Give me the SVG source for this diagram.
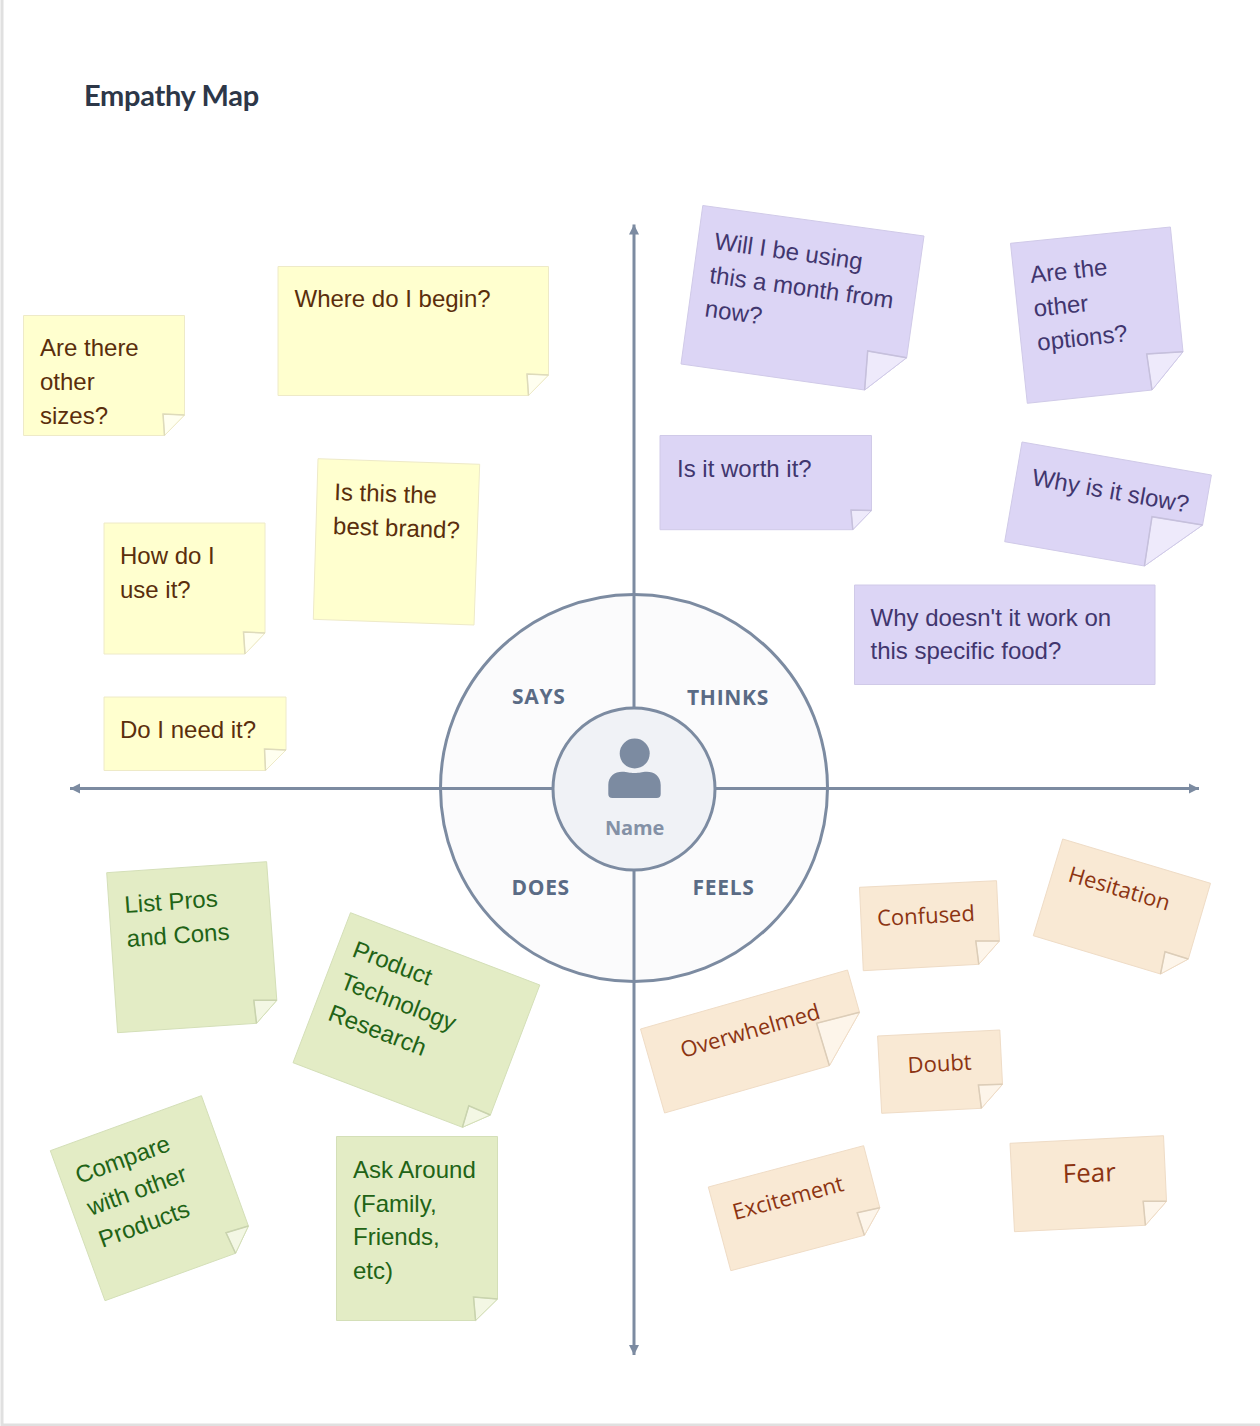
<svg xmlns="http://www.w3.org/2000/svg" width="1260" height="1426" viewBox="0 0 1260 1426">
<defs>
<marker id="arrow" markerUnits="userSpaceOnUse" markerWidth="11" markerHeight="12" refX="10" refY="6" orient="auto"><path d="M0 1 L10 6 L0 11 Z" fill="#7c8ba1"/></marker>
</defs>
<style>
.note{stroke-width:1}
.fold{stroke-width:1}
.crease{fill:none;stroke-width:1.5}
.t{font-family:"Liberation Sans",Arial,sans-serif;font-size:24px}
.p{font-family:"Open Sans","Noto Sans",sans-serif;font-size:22px}
.y .note{fill:#ffffcf;stroke:#eeeac8}.y .fold{fill:#fffff0;stroke:#eeeac8}.y .crease{stroke:#dedbbb}.y text{fill:#5a2e0c}
.v .note{fill:#dcd5f5;stroke:#d0cae8}.v .fold{fill:#eeeafb;stroke:#d0cae8}.v .crease{stroke:#c6c0dc}.v text{fill:#41366e}
.g .note{fill:#e3ecc5;stroke:#d4dfb8}.g .fold{fill:#f3f7e4;stroke:#d4dfb8}.g .crease{stroke:#c9d3ae}.g text{fill:#216316}
.o .note{fill:#f9e9d4;stroke:#efdcc6}.o .fold{fill:#fdf5ea;stroke:#efdcc6}.o .crease{stroke:#dccdb8}.o text{fill:#8c3412}
.lab{font-family:"Open Sans","Noto Sans",sans-serif;font-weight:700;font-size:21px;letter-spacing:0.7px;fill:#5a6b85}
.axis{stroke:#7c8ba1;stroke-width:3;fill:none}
</style>
<rect x="0" y="0" width="1260" height="1426" fill="#fff"/>
<path d="M2 0V1425H1260" fill="none" stroke="#e0e0e0" stroke-width="3"/>
<text x="84" y="105.500" style="font-family:Lato,'Open Sans',sans-serif;font-weight:700;font-size:29px;letter-spacing:-0.3px;fill:#2d3748">Empathy Map</text>

<g id="center-outer"><circle cx="634" cy="788" r="193.5" fill="#fbfbfc" stroke="#7c8ba1" stroke-width="3"/></g>
<g id="connectors">
<path class="axis" d="M634 708V224.500" marker-end="url(#arrow)"/>
<path class="axis" d="M634 870V1355" marker-end="url(#arrow)"/>
<path class="axis" d="M553 788.500H70" marker-end="url(#arrow)"/>
<path class="axis" d="M715 788.500H1199" marker-end="url(#arrow)"/>
</g>
<g id="center-inner"><circle cx="634" cy="789" r="81" fill="#f0f2f6" stroke="#7c8ba1" stroke-width="3"/>
<circle cx="634.700" cy="753.500" r="15" fill="#7c8ba1"/>
<path d="M608.300 794V785C608.300 776 615 771.700 622 771.700C628 771.700 629 773 634.500 773C640 773 641 771.700 647 771.700C654 771.700 660.700 776 660.700 785V794Q660.700 798 656.700 798H612.300Q608.300 798 608.300 794Z" fill="#7c8ba1"/>
<text x="634.500" y="835" text-anchor="middle" style="font-family:'Open Sans','Noto Sans',sans-serif;font-weight:700;font-size:20px;letter-spacing:-0.2px;fill:#8491a6">Name</text></g>
<g id="label-says"><text class="lab" x="512" y="704">SAYS</text></g>
<g id="label-thinks"><text class="lab" x="687" y="705">THINKS</text></g>
<g id="label-does"><text class="lab" x="511.500" y="895">DOES</text></g>
<g id="label-feels"><text class="lab" x="692.500" y="895">FEELS</text></g>

<g id="y1" class="y"><path class="note" d="M23.500 315.500H184.500V415L164.500 435.500H23.500Z"/><path class="fold" d="M184.500 415L163 414L164.500 435.500Z"/><path class="crease" d="M184.500 415L163 414L164.500 435.500"/><text class="t" x="40" y="356">Are there<tspan x="40" dy="34">other</tspan><tspan x="40" dy="34">sizes?</tspan></text></g>
<g id="y2" class="y"><path class="note" d="M278 266.500H548.500V375L528.500 395.500H278Z"/><path class="fold" d="M548.500 375L527 374L528.500 395.500Z"/><path class="crease" d="M548.500 375L527 374L528.500 395.500"/><text class="t" x="294.500" y="307">Where do I begin?</text></g>
<g id="y3" class="y"><path class="note" d="M318 458.700L479.700 464.300L474 625L313.300 619.300Z"/><text class="t" transform="translate(334 500) rotate(2)">Is this the<tspan x="0" dy="34">best brand?</tspan></text></g>
<g id="y4" class="y"><path class="note" d="M104 523H265V633L245 654H104Z"/><path class="fold" d="M265 633L243.500 632L245 654Z"/><path class="crease" d="M265 633L243.500 632L245 654"/><text class="t" x="120" y="564">How do I<tspan x="120" dy="34">use it?</tspan></text></g>
<g id="y5" class="y"><path class="note" d="M104 697H286V750L265.500 770.500H104Z"/><path class="fold" d="M286 750L264.500 749L265.500 770.500Z"/><path class="crease" d="M286 750L264.500 749L265.500 770.500"/><text class="t" x="120" y="738">Do I need it?</text></g>

<g id="v1" class="v"><path class="note" d="M702.800 205.500L924 236L906.700 357.700L864.600 390L681 364Z"/><path class="fold" d="M906.700 357.700L867.700 351L864.600 390Z"/><path class="crease" d="M906.700 357.700L867.700 351L864.600 390"/><text class="t" transform="translate(713.500 249) rotate(8)">Will I be using<tspan x="0" dy="34">this a month from</tspan><tspan x="0" dy="34">now?</tspan></text></g>
<g id="v2" class="v"><path class="note" d="M1010.500 243.300L1170.400 227L1183 351.700L1152 390L1027.300 403.300Z"/><path class="fold" d="M1183 351.700L1146.700 354L1152 390Z"/><path class="crease" d="M1183 351.700L1146.700 354L1152 390"/><text class="t" transform="translate(1031 283) rotate(-6)">Are the<tspan x="0" dy="34">other</tspan><tspan x="0" dy="34">options?</tspan></text></g>
<g id="v3" class="v"><path class="note" d="M660 435.500H871.500V510.500L852.800 529.700H660Z"/><path class="fold" d="M871.500 510.500L851 510L852.800 529.700Z"/><path class="crease" d="M871.500 510.500L851 510L852.800 529.700"/><text class="t" x="677" y="477">Is it worth it?</text></g>
<g id="v4" class="v"><path class="note" d="M1022 442L1211.400 475L1202.600 525L1144.400 566L1004.700 541.700Z"/><path class="fold" d="M1202.600 525L1152 516.700L1144.400 566Z"/><path class="crease" d="M1202.600 525L1152 516.700L1144.400 566"/><text class="t" transform="translate(1031 485) rotate(10)">Why is it slow?</text></g>
<g id="v5" class="v"><path class="note" d="M854.500 585H1155V684.500H854.500Z"/><text class="t" x="870.500" y="626">Why doesn't it work on<tspan x="870.500" dy="33">this specific food?</tspan></text></g>

<g id="g1" class="g"><path class="note" d="M106.700 872.700L266.600 861.700L276.800 1000.300L256.500 1023.300L117.600 1032.700Z"/><path class="fold" d="M276.800 1000.300L253.800 1000.300L256.500 1023.300Z"/><path class="crease" d="M276.800 1000.300L253.800 1000.300L256.500 1023.300"/><text class="t" transform="translate(125 913) rotate(-4)">List Pros<tspan x="0" dy="34">and Cons</tspan></text></g>
<g id="g2" class="g"><path class="note" d="M350.500 912.700L539.800 985L490.400 1115L462.400 1127.300L293 1062.700Z"/><path class="fold" d="M490.400 1115L468.800 1105.700L462.400 1127.300Z"/><path class="crease" d="M490.400 1115L468.800 1105.700L462.400 1127.300"/><text class="t" transform="translate(351 956) rotate(21)">Product<tspan x="0" dy="34">Technology</tspan><tspan x="0" dy="34">Research</tspan></text></g>
<g id="g3" class="g"><path class="note" d="M201.400 1095.700L248.400 1226L235.500 1253.300L105 1300.700L50.300 1150.700Z"/><path class="fold" d="M248.400 1226L226 1232.700L235.500 1253.300Z"/><path class="crease" d="M248.400 1226L226 1232.700L235.500 1253.300"/><text class="t" transform="translate(79 1184) rotate(-20)">Compare<tspan x="0" dy="34">with other</tspan><tspan x="0" dy="34">Products</tspan></text></g>
<g id="g4" class="g"><path class="note" d="M336.500 1136.500H497.500V1299L475.600 1320.500H336.500Z"/><path class="fold" d="M497.500 1299L473.500 1297L475.600 1320.500Z"/><path class="crease" d="M497.500 1299L473.500 1297L475.600 1320.500"/><text class="t" x="353" y="1178">Ask Around<tspan x="353" dy="33.700">(Family,</tspan><tspan x="353" dy="33.700">Friends,</tspan><tspan x="353" dy="33.700">etc)</tspan></text></g>

<g id="o1" class="o"><path class="note" d="M859.500 887.300L996.500 880.700L999.400 941L978.800 964.300L863.300 970.700Z"/><path class="fold" d="M999.400 941L975.800 941L978.800 964.300Z"/><path class="crease" d="M999.400 941L975.800 941L978.800 964.300"/><text class="p" transform="translate(877.500 926) rotate(-3)">Confused</text></g>
<g id="o2" class="o"><path class="note" d="M1062.700 839L1210.500 883.300L1188.300 959L1160.500 974L1033.300 935.700Z"/><path class="fold" d="M1188.300 959L1165 951.700L1160.500 974Z"/><path class="crease" d="M1188.300 959L1165 951.700L1160.500 974"/><text class="p" transform="translate(1067 881) rotate(16.500)">Hesitation</text></g>
<g id="o3" class="o"><path class="note" d="M847.500 970L859.500 1012.300L829.400 1065.700L664.600 1113L640.500 1029Z"/><path class="fold" d="M859.500 1012.300L816.600 1023.300L829.400 1065.700Z"/><path class="crease" d="M859.500 1012.300L816.600 1023.300L829.400 1065.700"/><text class="p" transform="translate(683 1058) rotate(-16)">Overwhelmed</text></g>
<g id="o4" class="o"><path class="note" d="M877.600 1036L999.800 1030L1002.500 1084.300L981.400 1108.300L881.700 1113.300Z"/><path class="fold" d="M1002.500 1084.300L978.400 1085L981.400 1108.300Z"/><path class="crease" d="M1002.500 1084.300L978.400 1085L981.400 1108.300"/><text class="p" transform="translate(908 1073) rotate(-3)">Doubt</text></g>
<g id="o5" class="o"><path class="note" d="M863.600 1145.700L879.800 1207.700L864.400 1235.300L730.800 1270.700L708.300 1187Z"/><path class="fold" d="M879.800 1207.700L857.200 1212.700L864.400 1235.300Z"/><path class="crease" d="M879.800 1207.700L857.200 1212.700L864.400 1235.300"/><text class="p" transform="translate(735 1220) rotate(-15)">Excitement</text></g>
<g id="o6" class="o"><path class="note" d="M1010 1143.300L1163.500 1135.700L1166.500 1201.300L1145.400 1225.300L1014.500 1231.700Z"/><path class="fold" d="M1166.500 1201.300L1143.200 1201.300L1145.400 1225.300Z"/><path class="crease" d="M1166.500 1201.300L1143.200 1201.300L1145.400 1225.300"/><text class="p" style="font-size:26px" transform="translate(1063 1183) rotate(-2)">Fear</text></g>
</svg>
